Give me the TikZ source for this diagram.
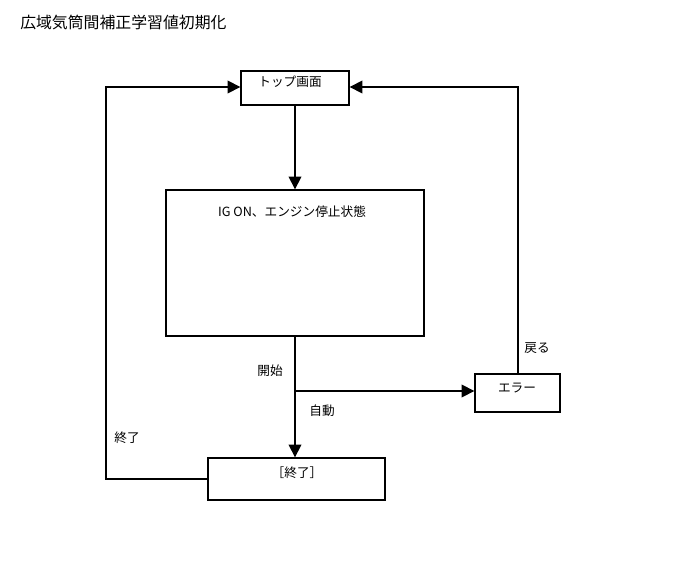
\documentclass[tikz,border=0pt]{standalone}
\usepackage{fontspec}
\setmainfont{Noto Sans CJK JP}
\usetikzlibrary{arrows.meta}
\begin{document}
\begin{tikzpicture}[x=0.75pt,y=-0.75pt,
  box/.style={draw,line width=1pt,rectangle,inner sep=0pt,fill=white},
  lbl/.style={font=\fontsize{9.5pt}{11pt}\selectfont,inner sep=0pt},
  conn/.style={line width=1pt},
  arr/.style={conn,-{Triangle[length=9.5pt,width=9.5pt]}}]
\useasboundingbox (0,0) rectangle (688,560);
\node[anchor=west,font=\fontsize{11.9pt}{14pt}\selectfont,inner sep=0pt] (title) at (20,22) {広域気筒間補正学習値初期化};
% boxes
\node[box,minimum width=81pt,minimum height=25.5pt] (top) at (295,88) {};
\node[box,minimum width=193.5pt,minimum height=109.5pt] (main) at (295,263) {};
\node[box,minimum width=63.75pt,minimum height=28.5pt] (err) at (517.5,393) {};
\node[box,minimum width=132.75pt,minimum height=31.5pt] (end) at (296.5,479) {};
% box texts
\node[lbl] (toptext) at (290,82) {トップ画面};
\node[lbl] (maintext) at (292,212) {IG ON、エンジン停止状態};
\node[lbl] (errtext) at (517,388) {エラー};
\node[lbl] (endtext) at (297,473) {［終了］};
% connector labels
\node[lbl] (lstart) at (270,371) {開始};
\node[lbl] (lauto) at (322,411) {自動};
\node[lbl] (lback) at (537,348) {戻る};
\node[lbl] (lend) at (127,438) {終了};
% coordinates
\coordinate (rc) at (518,87);
\coordinate (lc) at (106,87);
% connectors
\draw[arr] (top.south) -- (main.north);
\draw[arr] (main.south) -- (main.south |- end.north);
\draw[arr] (main.south |- 0,391) -- (err.west |- 0,391);
\draw[arr] (err.north -| rc) -- (rc) -- (top.east |- rc);
\draw[arr] (end.west) -- (end.west -| lc) -- (lc) -- (top.west |- lc);
\end{tikzpicture}
\end{document}
